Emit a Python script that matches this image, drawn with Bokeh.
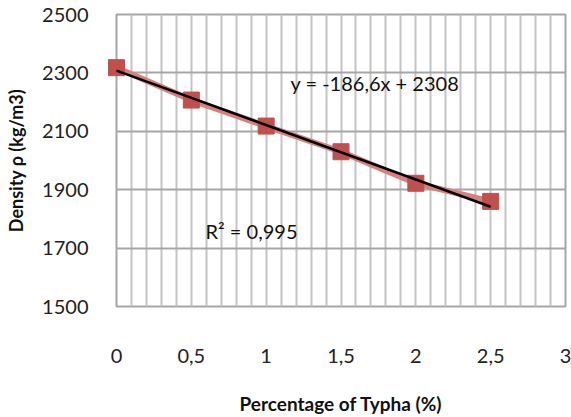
from bokeh.plotting import figure
from bokeh.models import FixedTicker, Range1d, Label
from bokeh.embed import file_html
from bokeh.resources import INLINE

typha_pct = [0, 0.5, 1, 1.5, 2, 2.5]
density = [2318, 2207, 2118, 2030, 1922, 1860]
slope = -186.6
intercept = 2308
eq_text = "y = -186,6x + 2308"
r2_text = "R² = 0,995"
x_ticks = [0, 0.5, 1, 1.5, 2, 2.5, 3]
x_tick_labels = ["0", "0,5", "1", "1,5", "2", "2,5", "3"]
y_ticks = [1500, 1700, 1900, 2100, 2300, 2500]
x_grid = [i / 10 for i in range(0, 31)]

FONT = "Lato"

p = figure(width=571, height=417, output_backend="svg", toolbar_location=None,
           x_range=Range1d(0, 3), y_range=Range1d(1500, 2500),
           min_border_left=116, min_border_right=6, min_border_top=14, min_border_bottom=110)
p.background_fill_color = "white"
p.border_fill_color = "white"
p.outline_line_color = "#a6a6a6"
p.outline_line_width = 2

p.xaxis.ticker = FixedTicker(ticks=x_ticks)
p.xaxis.major_label_overrides = {t: l for t, l in zip(x_ticks, x_tick_labels)}
p.yaxis.ticker = FixedTicker(ticks=y_ticks)
p.xgrid.ticker = FixedTicker(ticks=x_grid)
p.xgrid.grid_line_color = "#c4c4c4"
p.xgrid.grid_line_width = 2
p.ygrid.grid_line_color = "#a6a6a6"
p.ygrid.grid_line_width = 2

for ax in (p.xaxis, p.yaxis):
    ax.axis_line_color = None
    ax.major_tick_line_color = None
    ax.minor_tick_line_color = None
    ax.major_label_text_font = FONT
    ax.major_label_text_font_size = "20px"
    ax.major_label_text_color = "#222222"
    ax.axis_label_text_font = FONT
    ax.axis_label_text_font_style = "bold"
    ax.axis_label_text_color = "#111111"

p.xaxis.major_label_standoff = 36
p.yaxis.major_label_standoff = 22
p.xaxis.axis_label = "Percentage of Typha (%)"
p.xaxis.axis_label_text_font_size = "19px"
p.xaxis.axis_label_standoff = 26
p.yaxis.axis_label = "Density ρ (kg/m3)"
p.yaxis.axis_label_text_font_size = "18px"
p.yaxis.axis_label_standoff = 12

p.line(typha_pct, density, line_color="#d9807c", line_width=6, level="overlay")
p.scatter(typha_pct, density, marker="square", size=16, fill_color="#c0504d",
          line_color="#c0504d", level="overlay")

x_fit = [typha_pct[0], typha_pct[-1]]
y_fit = [slope * x + intercept for x in x_fit]
p.line(x_fit, y_fit, line_color="black", line_width=2.5, level="overlay")

# screen offsets measured from the frame's bottom-left corner
p.add_layout(Label(x=174, y=224, x_units="screen", y_units="screen", text=eq_text,
                   text_font=FONT, text_font_size="20px", text_color="#111111",
                   text_baseline="middle"))
p.add_layout(Label(x=89, y=76, x_units="screen", y_units="screen", text=r2_text,
                   text_font=FONT, text_font_size="20px", text_color="#111111",
                   text_baseline="middle"))

open("out.html", "w").write(file_html(p, INLINE))
